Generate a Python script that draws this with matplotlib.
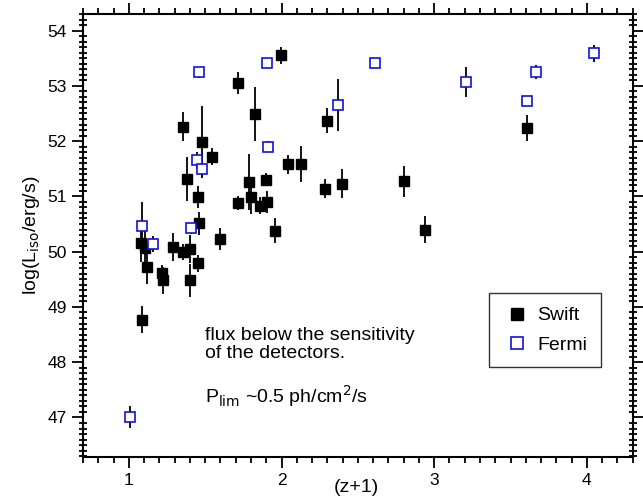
import matplotlib
matplotlib.use("Agg")
import matplotlib.pyplot as plt
from matplotlib.lines import Line2D
from matplotlib.ticker import MultipleLocator

plt.rcParams["font.family"] = ["Liberation Sans", "DejaVu Sans"]

# Swift GRBs: (z+1), log L_iso, error
swift_x = [1.077, 1.107, 1.121, 1.085, 1.216, 1.225, 1.287, 1.352, 1.398, 1.400,
           1.456, 1.457, 1.595, 1.450, 1.383, 1.354, 1.481, 1.545, 1.717, 1.717,
           1.787, 1.798, 1.824, 1.859, 1.903, 1.898, 1.957, 1.999, 2.045, 2.130,
           2.288, 2.298, 2.395, 2.799, 2.941, 3.608]
swift_y = [50.16, 50.07, 49.72, 48.77, 49.61, 49.48, 50.08, 49.99, 50.05, 49.48,
           49.79, 50.51, 50.23, 50.99, 51.31, 52.26, 51.99, 51.72, 53.05, 50.88,
           51.26, 50.98, 52.49, 50.83, 50.90, 51.30, 50.38, 53.55, 51.58, 51.59,
           51.14, 52.37, 51.23, 51.27, 50.40, 52.24]
swift_err = [0.35, 0.30, 0.30, 0.25, 0.15, 0.25, 0.25, 0.15, 0.25, 0.30,
             0.15, 0.20, 0.20, 0.20, 0.40, 0.26, 0.65, 0.15, 0.20, 0.12,
             0.50, 0.30, 0.49, 0.15, 0.20, 0.12, 0.22, 0.15, 0.17, 0.33,
             0.17, 0.23, 0.26, 0.28, 0.24, 0.23]

# Fermi GRBs
fermi_x = [1.007, 1.089, 1.160, 1.407, 1.449, 1.481, 1.457, 1.903, 1.914, 2.369,
           2.611, 3.210, 3.608, 3.669, 4.049]
fermi_y = [47.01, 50.47, 50.14, 50.42, 51.65, 51.50, 53.25, 53.42, 51.90, 52.66,
           53.42, 53.07, 52.73, 53.25, 53.59]
fermi_err = [0.20, 0.42, 0.15, 0.10, 0.15, 0.15, 0.10, 0.05, 0.10, 0.47,
             0.05, 0.27, 0.05, 0.13, 0.15]

blue = "#1010e0"

fig = plt.figure(figsize=(6.43, 4.99), dpi=100)
ax = fig.add_axes([83 / 643, 1 - 456.7 / 499, (632.7 - 83) / 643, (456.7 - 14) / 499])

ax.errorbar(swift_x, swift_y, yerr=swift_err, fmt="s", color="black", ms=7,
            mfc="black", mec="black", elinewidth=1.3, capsize=0, zorder=3)
ax.errorbar(fermi_x, fermi_y, yerr=fermi_err, fmt="s", ecolor="black", ms=7,
            mfc="white", mec=blue, mew=1.2, elinewidth=1.3, capsize=0, zorder=4)

ax.set_xlim(0.7, 4.3)
ax.set_ylim(46.29, 54.3)
ax.xaxis.set_major_locator(MultipleLocator(1))
ax.xaxis.set_minor_locator(MultipleLocator(0.1))
ax.yaxis.set_major_locator(MultipleLocator(1))
ax.yaxis.set_minor_locator(MultipleLocator(0.1))

for s in ax.spines.values():
    s.set_linewidth(1.5)
ax.tick_params(which="both", top=True, right=True, direction="out", width=1.3,
               labelsize=12.5)
ax.tick_params(which="major", length=8)
ax.tick_params(which="minor", length=4)
ax.tick_params(axis="y", which="minor", direction="inout", length=6)

# x label sits low, close to the bottom edge
fig.text(356 / 643, 1 - 488 / 499, "(z+1)", fontsize=14, ha="center", va="center")
ax.set_ylabel(r"log(L$_{\rm iso}$/erg/s)", fontsize=14)

ax.text(1.5, 48.32, "flux below the sensitivity\nof the detectors.", fontsize=14,
        va="center", linespacing=1.15)
ax.text(1.5, 47.38, r"P$_{\rm lim}$ ~0.5 ph/cm$^2$/s", fontsize=14, va="center")

handles = [
    Line2D([], [], ls="none", marker="s", ms=8, mfc="black", mec="black"),
    Line2D([], [], ls="none", marker="s", ms=8, mfc="white", mec=blue, mew=1.2),
]
leg = ax.legend(handles, ["Swift", "Fermi"], loc="lower right",
                bbox_to_anchor=(0.96, 0.18), fontsize=14, frameon=True,
                fancybox=False, edgecolor="black", handletextpad=0.3,
                handlelength=1.5, borderpad=0.7, labelspacing=0.6)
leg.get_frame().set_linewidth(1.0)

fig.savefig("out.png", dpi=100)
